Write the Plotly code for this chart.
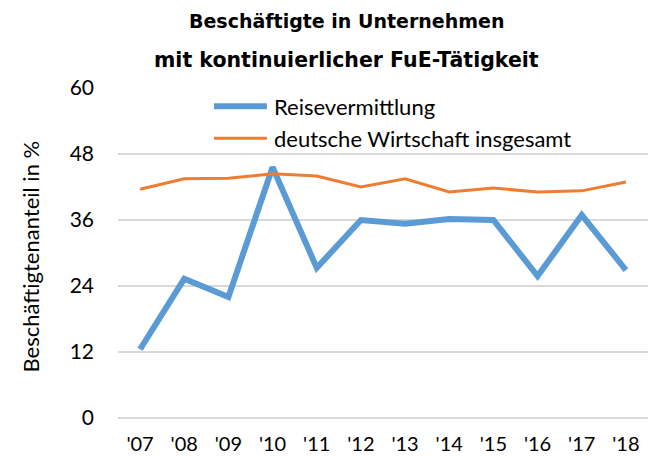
import plotly.graph_objects as go

years = ["'07", "'08", "'09", "'10", "'11", "'12", "'13", "'14", "'15", "'16", "'17", "'18"]
reise = [12.5, 25.3, 22.0, 45.6, 27.3, 36.0, 35.3, 36.2, 36.0, 25.8, 36.9, 26.9]
gesamt = [41.6, 43.5, 43.6, 44.4, 44.0, 42.0, 43.5, 41.1, 41.8, 41.1, 41.3, 42.9]
name_reise = "Reisevermittlung"
name_gesamt = "deutsche Wirtschaft insgesamt"
title1 = "Beschäftigte in Unternehmen"
title2 = "mit kontinuierlicher FuE-Tätigkeit"
ytitle = "Beschäftigtenanteil in %"

blue = "#5B9BD5"
orange = "#ED7D31"
font_main = "Lato, 'Open Sans', sans-serif"
font_title = "'DejaVu Sans', Verdana, sans-serif"

fig = go.Figure()
fig.add_trace(go.Scatter(x=years, y=reise, mode="lines", name=name_reise,
                         line=dict(color=blue, width=6)))
fig.add_trace(go.Scatter(x=years, y=gesamt, mode="lines", name=name_gesamt,
                         line=dict(color=orange, width=3)))

# legend drawn manually (inside plot area, top)
legend_items = [(name_reise, blue, 6, 0.945), (name_gesamt, orange, 3, 0.848)]
shapes = []
annotations = []
for name, col, w, yy in legend_items:
    shapes.append(dict(type="line", xref="paper", yref="paper",
                       x0=0.181, x1=0.281, y0=yy, y1=yy,
                       line=dict(color=col, width=w)))
    annotations.append(dict(text=name, xref="paper", yref="paper",
                            x=0.290, y=yy, xanchor="left", yanchor="middle",
                            showarrow=False, font=dict(family=font_main, size=22)))

annotations += [
    dict(text="<b>" + title1 + "</b>", xref="paper", yref="paper",
         x=0.432, y=1.203, xanchor="center", yanchor="middle", showarrow=False,
         font=dict(family=font_title, size=19)),
    dict(text="<b>" + title2 + "</b>", xref="paper", yref="paper",
         x=0.432, y=1.085, xanchor="center", yanchor="middle", showarrow=False,
         font=dict(family=font_title, size=20.5)),
    dict(text=ytitle, xref="paper", yref="paper", textangle=-90,
         x=-0.165, y=0.488, xanchor="center", yanchor="middle", showarrow=False,
         font=dict(family=font_main, size=22)),
]

fig.update_layout(
    width=649, height=448,
    margin=dict(l=110, r=9, t=80, b=38, autoexpand=False),
    paper_bgcolor="white", plot_bgcolor="white",
    font=dict(family=font_main, size=21, color="#000000"),
    showlegend=False,
    shapes=shapes,
    annotations=annotations,
    xaxis=dict(type="category", range=[-0.5, 11.5], showgrid=False,
               showline=False, zeroline=False, ticks="", automargin=False,
               ticklabelstandoff=12,
               tickfont=dict(size=20)),
    yaxis=dict(range=[0, 60], dtick=12, tick0=0, showgrid=True,
               gridcolor="#D9D9D9", gridwidth=1.5, automargin=False,
               zeroline=True, zerolinecolor="#D9D9D9", zerolinewidth=1.5,
               showline=False, ticks="", ticklabelstandoff=23,
               tickfont=dict(size=21)),
)

fig.write_html("out.html")
